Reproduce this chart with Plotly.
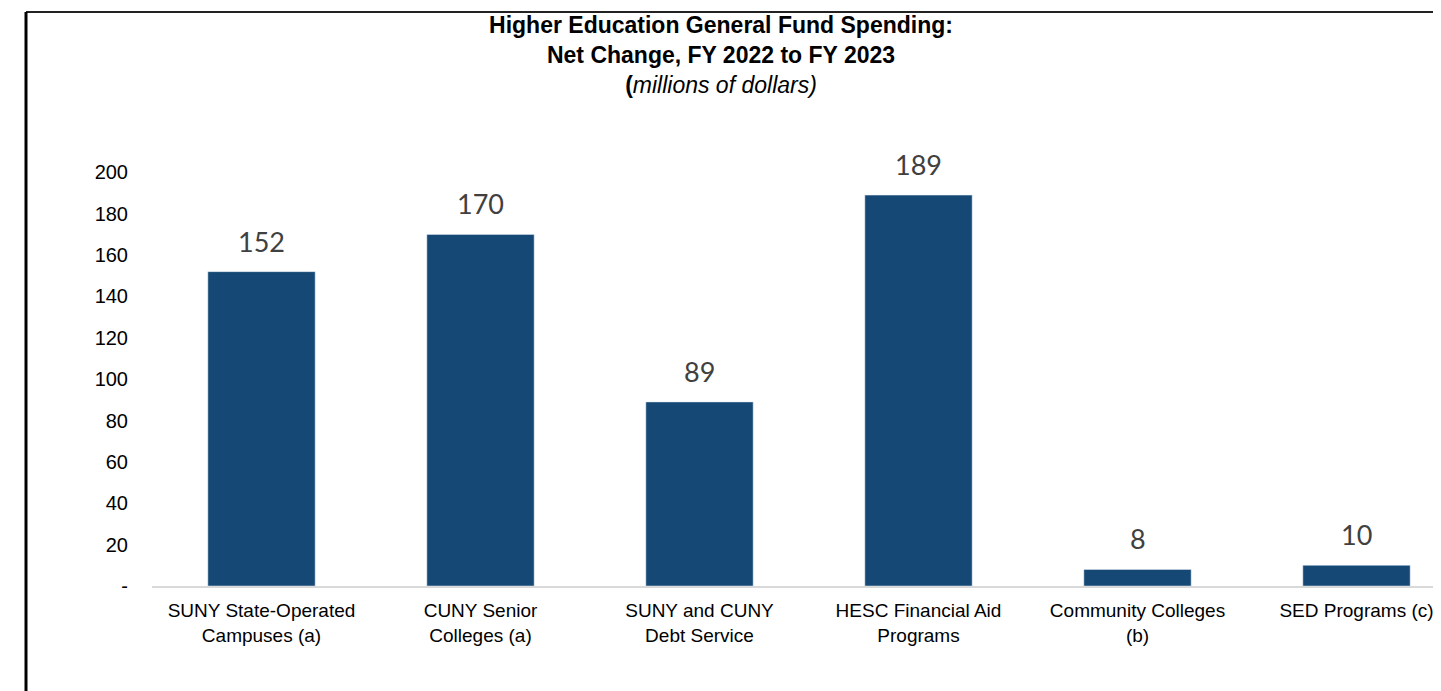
import plotly.graph_objects as go

categories = ["SUNY State-Operated<br>Campuses (a)", "CUNY Senior<br>Colleges (a)",
              "SUNY and CUNY<br>Debt Service", "HESC Financial Aid<br>Programs",
              "Community Colleges<br>(b)", "SED Programs (c)"]
values = [152, 170, 89, 189, 8, 10]
tick_vals = [0, 20, 40, 60, 80, 100, 120, 140, 160, 180, 200]
tick_text = ["-", "20", "40", "60", "80", "100", "120", "140", "160", "180", "200"]

# page has an 8px body margin; figure is sized to fill the 1441x691 window
W, H = 1433, 683
L, R, T, B = 144, 0, 123, 105
PW, PH = W - L - R, H - T - B

fig = go.Figure()
fig.add_trace(go.Bar(x=list(range(len(categories))), y=values, marker_color="#154874",
                     width=0.49, showlegend=False))

for i, v in enumerate(values):
    fig.add_annotation(x=i, y=v, text=str(v), showarrow=False, yanchor="bottom",
                       yshift=12, font=dict(family="Lato, Open Sans, sans-serif", size=27, color="#404040"))

fig.update_layout(
    width=W, height=H,
    margin=dict(l=L, r=R, t=T, b=B),
    paper_bgcolor="white", plot_bgcolor="white",
    title=dict(
        text="<b>Higher Education General Fund Spending:</b><br><b>Net Change, FY 2022 to FY 2023</b><br><b>(</b><i>millions of dollars)</i>",
        x=(721 - 8) / W, xanchor="center", yref="container", y=1 - 25 / H, yanchor="top",
        font=dict(family="Arial, Liberation Sans, sans-serif", size=23, color="black"),
    ),
    font=dict(family="Arial, Liberation Sans, sans-serif", size=19, color="black"),
)
fig.update_xaxes(range=[-0.5, -0.5 + PW / 219], tickvals=list(range(len(categories))), ticktext=categories,
                 showgrid=False, zeroline=False, showline=True, linecolor="#d9d9d9", linewidth=2,
                 ticks="", ticklabelstandoff=6, tickfont=dict(size=19, color="black"))
fig.update_yaxes(range=[0, 220], tickvals=tick_vals, ticktext=tick_text, showgrid=False,
                 zeroline=False, showline=False, ticks="", ticklabelstandoff=23,
                 tickfont=dict(size=20, color="black"))

# frame lines (left and top), in page coords x=26, y=12
fx = (26 - 8 - L) / PW
fy_top = (H - (12 - 8) - B) / PH
fy_bot = -B / PH
fig.add_shape(type="line", xref="paper", yref="paper", x0=fx, x1=1.0, y0=fy_top, y1=fy_top,
              line=dict(color="#222222", width=2))
fig.add_shape(type="line", xref="paper", yref="paper", x0=fx, x1=fx, y0=fy_top, y1=fy_bot,
              line=dict(color="black", width=3))

fig.write_html("out.html")
